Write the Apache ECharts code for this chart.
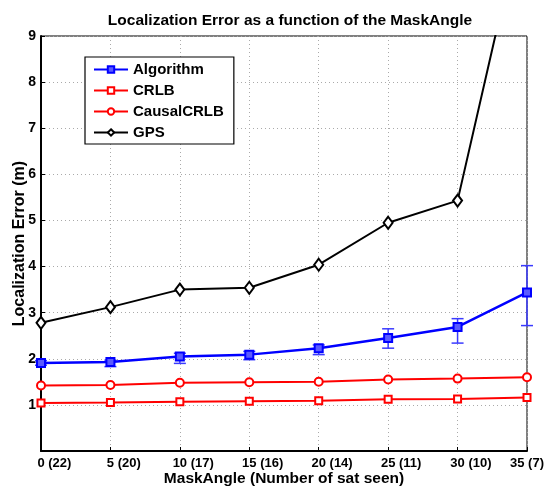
<!DOCTYPE html>
<html>
<head>
<meta charset="utf-8">
<script src="https://cdn.jsdelivr.net/npm/echarts@6/dist/echarts.min.js"></script>
<style>
  html, body { margin: 0; padding: 0; background: #fff; }
  #main { width: 550px; height: 487px; }
</style>
</head>
<body>
<div id="main"></div>
<script>
var maskAngles = [0, 5, 10, 15, 20, 25, 30, 35];
var satSeen = [22, 20, 17, 16, 14, 11, 10, 7];
var algorithm = [1.91, 1.93, 2.05, 2.09, 2.23, 2.45, 2.69, 3.44];
var algLow = [1.86, 1.83, 1.90, 1.98, 2.09, 2.23, 2.34, 2.72];
var algHigh = [1.96, 1.97, 2.12, 2.16, 2.30, 2.65, 2.87, 4.02];
var crlb = [1.04, 1.05, 1.07, 1.08, 1.09, 1.12, 1.13, 1.16];
var causalCrlb = [1.42, 1.43, 1.48, 1.49, 1.50, 1.55, 1.57, 1.60];
var gps = [2.78, 3.12, 3.50, 3.54, 4.04, 4.95, 5.43, 12.0];
var yTicks = [1, 2, 3, 4, 5, 6, 7, 8, 9];

var FONT = '"Liberation Sans", Arial, Helvetica, sans-serif';

function pairs(vals) {
    return maskAngles.map(function (x, i) { return [x, vals[i]]; });
}

var errData = maskAngles.map(function (x, i) { return [x, algLow[i], algHigh[i]]; });

var chart = echarts.init(document.getElementById('main'));

var option = {
    backgroundColor: '#fff',
    animation: false,
    title: {
        text: 'Localization Error as a function of the MaskAngle',
        left: 285,
        textAlign: 'center',
        top: 8,
        textStyle: { fontFamily: FONT, fontSize: 15.5, fontWeight: 'bold', color: '#000' }
    },
    legend: {
        orient: 'vertical',
        left: 85,
        top: 57,
        padding: [5, 10, 4, 8],
        itemGap: 6,
        itemWidth: 34,
        itemHeight: 8,
        backgroundColor: '#fff',
        borderColor: '#000',
        borderWidth: 1.2,
        borderRadius: 0,
        textStyle: { fontFamily: FONT, fontSize: 15, fontWeight: 'bold', color: '#000' },
        data: ['Algorithm', 'CRLB', 'CausalCRLB', 'GPS']
    },
    grid: {
        left: 41,
        right: 23,
        top: 36,
        bottom: 36,
        outerBoundsMode: 'none',
        show: true,
        borderColor: '#000',
        borderWidth: 1
    },
    xAxis: {
        type: 'value',
        min: 0,
        max: 35,
        interval: 5,
        name: 'MaskAngle (Number of sat seen)',
        nameLocation: 'middle',
        nameGap: 20,
        nameMoveOverlap: false,
        nameTextStyle: { fontFamily: FONT, fontSize: 15.5, fontWeight: 'bold', color: '#000' },
        axisLine: { lineStyle: { color: '#000', width: 2 } },
        axisTick: { inside: true, length: 4, lineStyle: { color: '#000' } },
        splitLine: { show: true, lineStyle: { color: '#aaa', type: [1, 3], width: 1 } },
        axisLabel: {
            margin: 6,
            fontFamily: FONT,
            fontSize: 13,
            fontWeight: 'bold',
            color: '#000',
            formatter: function (v) {
                var i = maskAngles.indexOf(v);
                if (i < 0) return '';
                var p = '(' + satSeen[i] + ')';
                if (i === maskAngles.length - 1) return v + ' ' + p;
                return '{h|' + p + ' }' + v + ' ' + p;
            },
            rich: {
                h: { color: 'rgba(0,0,0,0)', fontFamily: FONT, fontSize: 13, fontWeight: 'bold' }
            }
        }
    },
    yAxis: {
        type: 'value',
        min: 0,
        max: 9,
        interval: 1,
        name: 'Localization Error (m)',
        nameLocation: 'middle',
        nameGap: 13,
        nameMoveOverlap: false,
        nameTextStyle: { fontFamily: FONT, fontSize: 16, fontWeight: 'bold', color: '#000' },
        axisLine: { show: true, lineStyle: { color: '#000', width: 2 } },
        axisTick: { show: true, inside: true, length: 4, lineStyle: { color: '#000' } },
        splitLine: { show: true, lineStyle: { color: '#aaa', type: [1, 3], width: 1 } },
        axisLabel: {
            margin: 5,
            fontFamily: FONT,
            fontSize: 14,
            fontWeight: 'bold',
            color: '#000',
            formatter: function (v) { return yTicks.indexOf(v) >= 0 ? String(v) : ''; }
        }
    },
    series: [
        {
            name: 'GPS',
            type: 'line',
            data: pairs(gps),
            symbol: 'diamond',
            symbolSize: [9, 12],
            color: '#000',
            lineStyle: { color: '#000', width: 2 },
            itemStyle: { color: '#fff', borderColor: '#000', borderWidth: 2 },
            z: 4
        },
        {
            name: 'CausalCRLB',
            type: 'line',
            data: pairs(causalCrlb),
            symbol: 'circle',
            symbolSize: 8,
            color: '#f00',
            lineStyle: { color: '#f00', width: 2 },
            itemStyle: { color: '#fff', borderColor: '#f00', borderWidth: 2 },
            z: 3
        },
        {
            name: 'CRLB',
            type: 'line',
            data: pairs(crlb),
            symbol: 'rect',
            symbolSize: 7,
            color: '#f00',
            lineStyle: { color: '#f00', width: 2 },
            itemStyle: { color: '#fff', borderColor: '#f00', borderWidth: 2 },
            z: 3
        },
        {
            name: 'Algorithm',
            type: 'line',
            data: pairs(algorithm),
            symbol: 'rect',
            symbolSize: 8,
            color: '#00f',
            lineStyle: { color: '#00f', width: 2.5 },
            itemStyle: { color: '#5a5aff', borderColor: '#00f', borderWidth: 2 },
            z: 5
        },
        {
            name: 'AlgorithmErr',
            type: 'custom',
            data: errData,
            z: 4,
            renderItem: function (params, api) {
                var x = api.value(0);
                var lo = api.coord([x, api.value(1)]);
                var hi = api.coord([x, api.value(2)]);
                var half = 6;
                var style = { stroke: '#3a3aff', lineWidth: 1.5 };
                return {
                    type: 'group',
                    children: [
                        { type: 'line', shape: { x1: lo[0], y1: lo[1], x2: hi[0], y2: hi[1] }, style: style },
                        { type: 'line', shape: { x1: lo[0] - half, y1: lo[1], x2: lo[0] + half, y2: lo[1] }, style: style },
                        { type: 'line', shape: { x1: hi[0] - half, y1: hi[1], x2: hi[0] + half, y2: hi[1] }, style: style }
                    ]
                };
            }
        }
    ]
};

chart.setOption(option);
</script>
</body>
</html>
